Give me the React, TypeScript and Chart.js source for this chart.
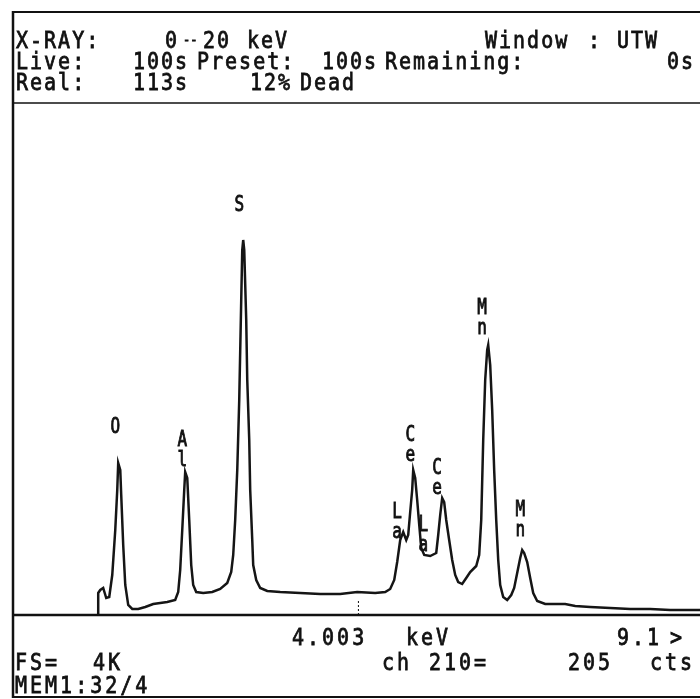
import React, { useEffect, useRef } from "react";
import { Chart, registerables } from "chart.js";

Chart.register(...registerables);

// Spectrum trace: energy (keV) and counts
const energyKeV = [
  0.204, 0.204, 0.234, 0.277, 0.321, 0.365, 0.409, 0.453, 0.482, 0.496, 0.526, 0.54, 0.569, 0.599, 0.642,
  0.701, 0.788, 0.891, 1.007, 1.109, 1.212, 1.328, 1.372, 1.401, 1.431, 1.46, 1.474, 1.504, 1.533, 1.562,
  1.591, 1.635, 1.737, 1.869, 1.985, 2.088, 2.146, 2.175, 2.204, 2.234, 2.263, 2.292, 2.307, 2.321, 2.336,
  2.365, 2.38, 2.409, 2.423, 2.453, 2.467, 2.511, 2.569, 2.672, 2.861, 3.153, 3.445, 3.737, 3.985, 4.248,
  4.394, 4.467, 4.526, 4.569, 4.613, 4.657, 4.701, 4.73, 4.759, 4.788, 4.803, 4.832, 4.861, 4.891, 4.92,
  4.964, 5.051, 5.139, 5.168, 5.197, 5.226, 5.255, 5.285, 5.328, 5.372, 5.416, 5.46, 5.518, 5.577, 5.635,
  5.723, 5.766, 5.796, 5.825, 5.854, 5.883, 5.898, 5.927, 5.956, 5.985, 6.015, 6.044, 6.073, 6.117, 6.175,
  6.234, 6.277, 6.321, 6.365, 6.394, 6.423, 6.467, 6.511, 6.555, 6.613, 6.73, 6.876, 7.022, 7.168, 7.387,
  7.679, 7.971, 8.263, 8.555, 8.847, 8.993,
];
const counts = [
  0, 176, 200, 216, 136, 144, 320, 680, 1000, 1216, 1160, 960, 560, 240, 80,
  48, 48, 64, 88, 96, 104, 120, 184, 360, 680, 1000, 1144, 1096, 760, 400,
  240, 184, 176, 184, 208, 256, 344, 480, 760, 1160, 1720, 2520, 2920, 3000, 2920,
  2360, 1880, 1400, 1000, 600, 400, 280, 216, 192, 184, 176, 168, 168, 184, 176,
  184, 208, 280, 424, 600, 664, 600, 640, 824, 1000, 1160, 1096, 920, 720, 536,
  480, 472, 496, 640, 800, 936, 904, 760, 600, 440, 320, 264, 248, 296, 344,
  392, 480, 760, 1400, 1880, 2120, 2160, 2000, 1640, 1160, 760, 440, 240, 144, 120,
  160, 216, 336, 456, 520, 496, 424, 296, 176, 112, 88, 88, 88, 72, 64,
  56, 48, 48, 40, 40, 40,
];

// Peak labels (element symbol stacked vertically above each peak)
const peakNames = ["O", "Al", "S", "La", "Ce", "La", "Ce", "Mn", "Mn"];
const peakLabelKeV = [0.453, 1.431, 2.263, 4.569, 4.759, 4.949, 5.153, 5.81, 6.365];
const peakLabelCounts = [1584, 1480, 3360, 904, 1520, 800, 1256, 2536, 920];

// Cursor readout
const cursorKeV = 4.003;

// Header / footer texts
const headerRow1 = ["X-RAY:", "0", "--", "20", "keV", "Window", ":", "UTW"];
const headerRow2 = ["Live:", "100s", "Preset:", "100s", "Remaining:", "0s"];
const headerRow3 = ["Real:", "113s", "12%", "Dead"];
const footerRow1 = ["4.003", "keV", "9.1", ">"];
const footerRow2 = ["FS=", "4K", "ch", "210=", "205", "cts"];
const footerRow3 = ["MEM1:32/4"];

export default function App() {
  const ref = useRef<HTMLCanvasElement>(null);

  useEffect(() => {
    const canvas = ref.current;
    if (!canvas) return;

    const frame = {
      id: "frame",
      afterDraw(chart: any) {
        const ctx: CanvasRenderingContext2D = chart.ctx;
        const xs = chart.scales.x;
        const ys = chart.scales.y;
        ctx.save();
        ctx.strokeStyle = "#111";
        ctx.fillStyle = "#111";

        const line = (x1: number, y1: number, x2: number, y2: number, w: number) => {
          ctx.lineWidth = w;
          ctx.beginPath();
          ctx.moveTo(x1, y1);
          ctx.lineTo(x2, y2);
          ctx.stroke();
        };
        // frame
        line(13, 11, 13, 698, 2.5);
        line(12, 12, 700, 12, 2);
        line(12, 103, 700, 103, 1.5);
        line(12, 615, 700, 615, 2.5);
        line(12, 697, 700, 697, 2);

        // cursor tick
        const cx = xs.getPixelForValue(cursorKeV);
        ctx.setLineDash([2, 2]);
        line(cx, 601, cx, 614, 1);
        ctx.setLineDash([]);

        // texts (slightly tall, like the terminal's dot font)
        const txt = (s: string, x: number, y: number, size = 20, sp = "2px") => {
          ctx.save();
          ctx.font = `${size}px "DejaVu Sans Mono"`;
          (ctx as any).letterSpacing = sp;
          ctx.textAlign = "left";
          ctx.textBaseline = "alphabetic";
          ctx.translate(x, y);
          ctx.scale(1, 1.15);
          ctx.lineWidth = 0.7;
          ctx.fillText(s, 0, 0);
          ctx.strokeText(s, 0, 0);
          ctx.restore();
        };
        const h1x = [16, 165, 183, 203, 247, 485, 588, 617];
        headerRow1.forEach((s, i) => (s === "--" ? txt(s, h1x[i], 45, 12, "0px") : txt(s, h1x[i], 48)));
        const h2x = [16, 133, 197, 322, 385, 667];
        headerRow2.forEach((s, i) => txt(s, h2x[i], 69));
        const h3x = [16, 133, 250, 300];
        headerRow3.forEach((s, i) => txt(s, h3x[i], 90));

        const f1x = [292, 406, 617, 670];
        footerRow1.forEach((s, i) => txt(s, f1x[i], 645, 20, "3px"));
        const f2x = [15, 93, 382, 429, 568, 650];
        footerRow2.forEach((s, i) => txt(s, f2x[i], 670, 20, "3px"));
        footerRow3.forEach((s) => txt(s, 15, 693, 20, "3px"));

        // peak labels
        ctx.textAlign = "center";
        ctx.textBaseline = "top";
        peakNames.forEach((name, i) => {
          const px = xs.getPixelForValue(peakLabelKeV[i]);
          const py = ys.getPixelForValue(peakLabelCounts[i]);
          name.split("").forEach((ch, j) => {
            ctx.save();
            ctx.font = `16px "DejaVu Sans Mono"`;
            (ctx as any).letterSpacing = "0px";
            ctx.translate(px, py + j * 20);
            ctx.scale(1, 1.3);
            ctx.lineWidth = 0.7;
            ctx.fillText(ch, 0, 0);
            ctx.strokeText(ch, 0, 0);
            ctx.restore();
          });
        });
        ctx.restore();
      },
    };

    const chart = new Chart(canvas, {
      type: "line",
      data: {
        datasets: [
          {
            data: energyKeV.map((e, i) => ({ x: e, y: counts[i] })),
            borderColor: "#151515",
            borderWidth: 2.5,
            pointRadius: 0,
            tension: 0,
            fill: false,
          },
        ],
      },
      options: {
        animation: false,
        responsive: false,
        devicePixelRatio: 1,
        layout: { padding: { left: 13, top: 103, right: 0, bottom: 84 } },
        plugins: { legend: { display: false }, tooltip: { enabled: false } },
        scales: {
          x: { type: "linear", min: -1.04, max: 8.99, display: false },
          y: { type: "linear", min: 0, max: 4096, display: false },
        },
      },
      plugins: [frame],
    } as any);

    return () => chart.destroy();
  }, []);

  return (
    <canvas
      ref={ref}
      width={700}
      height={699}
      style={{ position: "fixed", left: 0, top: 0, width: 700, height: 699, background: "#fff" }}
    />
  );
}
